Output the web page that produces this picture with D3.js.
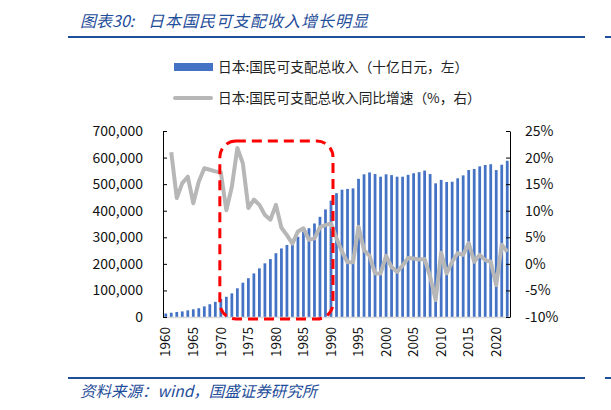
<!DOCTYPE html>
<html><head><meta charset="utf-8">
<script src="https://cdn.jsdelivr.net/npm/d3@7"></script>
<style>
body{margin:0;background:#fff;}
svg{display:block;font-family:"Noto Sans CJK SC","Noto Sans",sans-serif;}
</style></head>
<body><svg id="c" width="611" height="410"></svg>
<script>
const years = d3.range(1960, 2023);
const income = [13000,16000,19000,21000,25000,29000,33000,40000,48000,57000,
68000,76000,89000,108000,129000,146000,164000,183000,202000,218000,
240000,258000,271000,283000,302000,321000,334000,352000,377000,405000,
438000,466000,479000,482000,484000,520000,537000,544000,538000,528000,
537000,534000,528000,528000,535000,541000,545000,551000,538000,503000,
516000,508000,509000,522000,533000,553000,557000,567000,572000,575000,
553000,573000,588000];
const growthYears = d3.range(1961, 2023);
const growth = [21.0,12.4,15.2,16.4,11.4,15.5,18.0,17.7,17.4,17.2,
10.1,14.5,21.8,18.9,10.5,12.1,11.1,9.2,8.3,11.1,
6.8,5.4,3.8,6.1,6.7,4.5,4.8,6.9,7.3,7.6,
4.8,2.3,0.3,0.3,7.0,2.6,1.5,-1.8,-1.8,1.5,
-0.6,-1.5,-0.3,1.1,1.0,0.8,0.9,-2.4,-6.8,2.1,
-1.8,0.4,2.0,1.7,3.9,0.4,1.7,0.7,0.4,-4.0,
3.6,2.3];
const leftTicks = [0,100000,200000,300000,400000,500000,600000,700000];
const rightTicks = [-10,-5,0,5,10,15,20,25];
const yearLabels = [1960,1965,1970,1975,1980,1985,1990,1995,2000,2005,2010,2015,2020];
const titleHead = "图表30:";
const titleBody = "日本国民可支配收入增长明显";
const source = "资料来源：wind，国盛证券研究所";
const legend1 = "日本:国民可支配总收入（十亿日元，左）";
const legend2 = "日本:国民可支配总收入同比增速（%，右）";

const svg = d3.select("#c");
const L = 163, R = 510, T = 131, B = 317;
const x = d3.scaleBand().domain(years).range([L, R]).paddingInner(0.5).paddingOuter(0.25);
const yL = d3.scaleLinear().domain([0, 700000]).range([B, T]);
const yR = d3.scaleLinear().domain([-10, 25]).range([B, T]);
const blue = "#1F4E9A";

// header / footer
const tt = svg.append("text").attr("y", 27).attr("font-size", 16)
  .attr("font-style", "italic").attr("fill", blue);
tt.append("tspan").attr("x", 80).text(titleHead);
tt.append("tspan").attr("x", 148).attr("letter-spacing", 1).text(titleBody);
svg.append("rect").attr("x", 68).attr("y", 36).attr("width", 517).attr("height", 2).attr("fill", blue);
svg.append("rect").attr("x", 605).attr("y", 36).attr("width", 6).attr("height", 2).attr("fill", blue);
svg.append("rect").attr("x", 68).attr("y", 377).attr("width", 517).attr("height", 2).attr("fill", blue);
svg.append("rect").attr("x", 605).attr("y", 377).attr("width", 6).attr("height", 2).attr("fill", blue);
svg.append("text").attr("x", 80).attr("y", 397).attr("font-size", 15.5)
  .attr("font-style", "italic").attr("fill", blue).text(source);

// legend
svg.append("rect").attr("x", 174).attr("y", 63).attr("width", 39).attr("height", 8).attr("fill", "#4472C4");
svg.append("text").attr("x", 218).attr("y", 67).attr("dy", "0.35em").attr("font-size", 13.7).attr("fill", "#222").text(legend1);
svg.append("line").attr("x1", 175).attr("x2", 211).attr("y1", 98).attr("y2", 98)
  .attr("stroke", "#B7B7B7").attr("stroke-width", 4).attr("stroke-linecap", "round");
svg.append("text").attr("x", 218).attr("y", 98).attr("dy", "0.35em").attr("font-size", 13.7).attr("fill", "#222").text(legend2);

// bars
svg.append("g").selectAll("rect").data(years).join("rect")
  .attr("x", d => x(d)).attr("width", x.bandwidth())
  .attr("y", (d, i) => yL(income[i])).attr("height", (d, i) => yL(0) - yL(income[i]))
  .attr("fill", "#4472C4");

// bottom axis baseline
svg.append("line").attr("x1", L).attr("x2", R).attr("y1", B + 0.5).attr("y2", B + 0.5)
  .attr("stroke", "#D9D9D9").attr("stroke-width", 1.5);

// line
const cx = d => x(d) + x.bandwidth() / 2;
svg.append("path").datum(growthYears)
  .attr("d", d3.line().x(d => cx(d)).y((d, i) => yR(growth[i])))
  .attr("fill", "none").attr("stroke", "#B7B7B7").attr("stroke-width", 4)
  .attr("stroke-linejoin", "round");

// axes
const axL = svg.append("g").attr("transform", `translate(${L},0)`)
  .call(d3.axisLeft(yL).tickValues(leftTicks).tickSizeInner(-4).tickSizeOuter(0).tickPadding(20)
    .tickFormat(d3.format(",")));
const axR = svg.append("g").attr("transform", `translate(${R},0)`)
  .call(d3.axisRight(yR).tickValues(rightTicks).tickSizeInner(-4).tickSizeOuter(0).tickPadding(15)
    .tickFormat(d => d + "%"));
[axL, axR].forEach(a => {
  a.selectAll("text").attr("font-size", 14).attr("fill", "#111")
    .attr("font-family", "'Noto Sans CJK SC','Noto Sans',sans-serif");
  a.selectAll("path,line").attr("stroke", "#000");
});

// year labels
svg.append("g").selectAll("text").data(yearLabels).join("text")
  .attr("transform", d => `translate(${cx(d)},${B + 10}) rotate(-90)`)
  .attr("text-anchor", "end").attr("dy", "0.35em").attr("font-size", 13.5).attr("fill", "#111")
  .text(d => d);

// red dashed highlight box
const bx0 = cx(1970) - 1, bx1 = cx(1990) + 2;
const by0 = yR(23.1), by1 = B + 2;
svg.append("rect").attr("x", bx0).attr("y", by0).attr("width", bx1 - bx0).attr("height", by1 - by0)
  .attr("rx", 16).attr("ry", 16).attr("fill", "none").attr("stroke", "#FF0000")
  .attr("stroke-width", 3).attr("stroke-dasharray", "10,6");
</script></body></html>
